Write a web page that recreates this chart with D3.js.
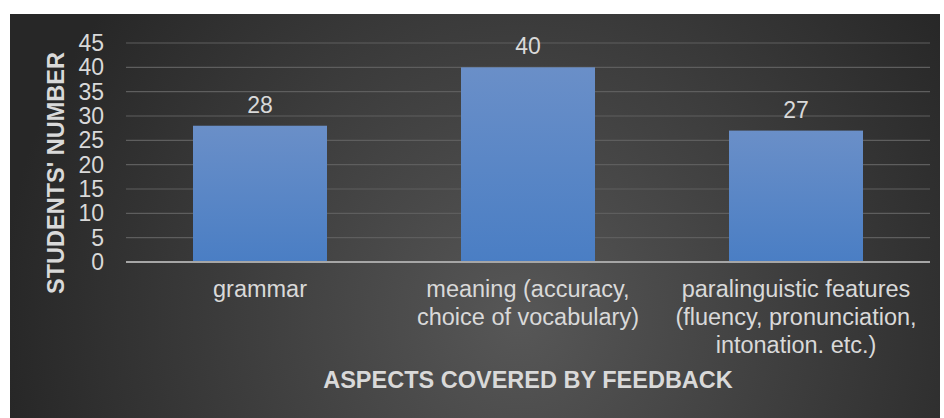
<!DOCTYPE html>
<html>
<head>
<meta charset="utf-8">
<script src="https://cdn.jsdelivr.net/npm/d3@7/dist/d3.min.js"></script>
<style>
  body { margin: 0; background: #fff; }
  svg { display: block; font-family: Arial, "Liberation Sans", sans-serif; }
</style>
</head>
<body>
<svg id="chart" width="944" height="418"></svg>
<script>
// data
const categories = [
  ["grammar"],
  ["meaning (accuracy,", "choice of vocabulary)"],
  ["paralinguistic features", "(fluency, pronunciation,", "intonation. etc.)"]
];
const values = [28, 40, 27];
const yTicks = [0, 5, 10, 15, 20, 25, 30, 35, 40, 45];
const yTitle = "STUDENTS' NUMBER";
const xTitle = "ASPECTS COVERED BY FEEDBACK";

const svg = d3.select("#chart");
const defs = svg.append("defs");

// dark panel background
const bg = defs.append("radialGradient")
  .attr("id", "bgGrad")
  .attr("gradientUnits", "userSpaceOnUse")
  .attr("cx", 520).attr("cy", 320).attr("r", 520);
bg.append("stop").attr("offset", "0%").attr("stop-color", "#575757");
bg.append("stop").attr("offset", "100%").attr("stop-color", "#272727");

const barGrad = defs.append("linearGradient")
  .attr("id", "barGrad")
  .attr("x1", 0).attr("y1", 0).attr("x2", 0).attr("y2", 1);
barGrad.append("stop").attr("offset", "0%").attr("stop-color", "#6a8fc8");
barGrad.append("stop").attr("offset", "100%").attr("stop-color", "#4a7ec4");

svg.append("rect")
  .attr("x", 10).attr("y", 14)
  .attr("width", 930).attr("height", 404)
  .attr("fill", "url(#bgGrad)");

const plotLeft = 126, plotRight = 930, plotTop = 43, plotBottom = 262;

const x = d3.scaleBand()
  .domain(d3.range(categories.length))
  .range([plotLeft, plotRight])
  .paddingInner(0.5)
  .paddingOuter(0.25);

const y = d3.scaleLinear()
  .domain([0, 45])
  .range([plotBottom, plotTop]);

// gridlines
svg.append("g")
  .selectAll("line")
  .data(yTicks.filter(d => d > 0))
  .enter().append("line")
  .attr("x1", plotLeft).attr("x2", plotRight)
  .attr("y1", d => y(d)).attr("y2", d => y(d))
  .attr("stroke", "#5e5e5e")
  .attr("stroke-width", 1.2);

// y tick labels
const yAxis = svg.append("g")
  .attr("transform", `translate(${plotLeft},0)`)
  .call(d3.axisLeft(y).tickValues(yTicks).tickSize(0).tickPadding(22));
yAxis.select(".domain").remove();
yAxis.selectAll("text")
  .attr("fill", "#d9d9d9")
  .attr("font-size", 23)
  .attr("font-family", "Arial, 'Liberation Sans', sans-serif");

// bars
svg.append("g")
  .selectAll("rect")
  .data(values)
  .enter().append("rect")
  .attr("x", (d, i) => x(i))
  .attr("y", d => y(d))
  .attr("width", x.bandwidth())
  .attr("height", d => y(0) - y(d))
  .attr("fill", "url(#barGrad)");

// baseline
svg.append("line")
  .attr("x1", plotLeft).attr("x2", plotRight)
  .attr("y1", y(0)).attr("y2", y(0))
  .attr("stroke", "#a6a6a6")
  .attr("stroke-width", 2);

// value labels
svg.append("g")
  .selectAll("text")
  .data(values)
  .enter().append("text")
  .attr("x", (d, i) => x(i) + x.bandwidth() / 2)
  .attr("y", d => y(d) - 13)
  .attr("text-anchor", "middle")
  .attr("fill", "#d9d9d9")
  .attr("font-size", 23)
  .text(d => d);

// category labels
const cat = svg.append("g")
  .selectAll("text")
  .data(categories)
  .enter().append("text")
  .attr("x", (d, i) => x(i) + x.bandwidth() / 2)
  .attr("y", 297)
  .attr("text-anchor", "middle")
  .attr("fill", "#d9d9d9")
  .attr("font-size", 23.5);
cat.selectAll("tspan")
  .data((d, i) => d.map(t => ({ t, cx: x(i) + x.bandwidth() / 2 })))
  .enter().append("tspan")
  .attr("x", d => d.cx)
  .attr("dy", (d, j) => j === 0 ? 0 : 28)
  .text(d => d.t);

// axis titles
svg.append("text")
  .attr("transform", "translate(64,173) rotate(-90)")
  .attr("text-anchor", "middle")
  .attr("fill", "#d9d9d9")
  .attr("font-size", 23.5)
  .attr("font-weight", "bold")
  .text(yTitle);

svg.append("text")
  .attr("x", (plotLeft + plotRight) / 2)
  .attr("y", 388)
  .attr("text-anchor", "middle")
  .attr("fill", "#d9d9d9")
  .attr("font-size", 23.5)
  .attr("font-weight", "bold")
  .text(xTitle);
</script>
</body>
</html>
